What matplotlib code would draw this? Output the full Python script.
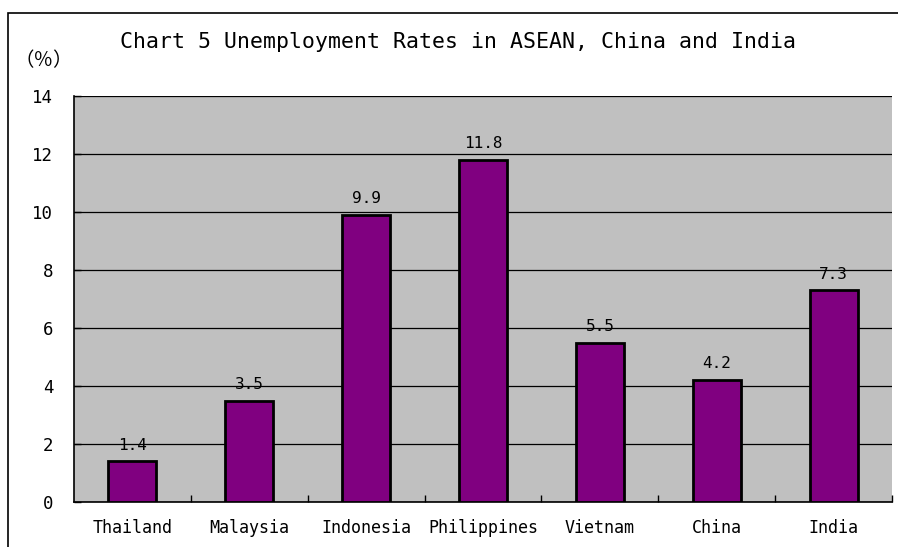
import matplotlib
matplotlib.use("Agg")
import matplotlib.pyplot as plt
from matplotlib.patches import Rectangle
from matplotlib.ticker import FixedLocator

countries = ["Thailand", "Malaysia", "Indonesia", "Philippines", "Vietnam", "China", "India"]
rates = [1.4, 3.5, 9.9, 11.8, 5.5, 4.2, 7.3]
y_ticks = [0, 2, 4, 6, 8, 10, 12, 14]

title = "Chart 5 Unemployment Rates in ASEAN, China and India"
unit_label = "（％）"

mono = ["DejaVu Sans Mono", "Noto Sans CJK JP"]

W, H = 898, 547
fig = plt.figure(figsize=(W / 100, H / 100), dpi=100)
fig.patch.set_facecolor("white")

# outer chart frame (only top/left edges are inside the image)
fig.patches.append(Rectangle((8 / W, -0.2), 1.2, (H - 13) / H + 0.2, transform=fig.transFigure,
                             fill=False, edgecolor="black", linewidth=1.2, clip_on=False))

ax = fig.add_axes([74 / W, 45 / H, (892 - 74) / W, (502 - 96) / H])
ax.set_facecolor("#C0C0C0")

x = list(range(len(countries)))
ax.bar(x, rates, width=0.41, color="#800080", edgecolor="black", linewidth=2, zorder=3)

for xi, v in zip(x, rates):
    ax.text(xi, v + 0.3, f"{v:.1f}", ha="center", va="bottom", fontsize=11.5, family=mono, zorder=4)

ax.set_xlim(-0.5, len(countries) - 0.5)
ax.set_ylim(0, 14)
ax.set_yticks(y_ticks)
ax.set_yticklabels([str(t) for t in y_ticks], family=mono, fontsize=12.5)
ax.yaxis.grid(True, color="black", linewidth=0.9, zorder=1)
ax.set_axisbelow(True)

ax.set_xticks(x)
ax.set_xticklabels(countries, family=mono, fontsize=12)
ax.xaxis.set_minor_locator(FixedLocator([i + 0.5 for i in range(len(countries))]))
ax.tick_params(axis="x", which="major", length=0, pad=12)
ax.tick_params(axis="x", which="minor", direction="in", length=5, width=1)
ax.tick_params(axis="y", direction="in", length=5, width=1, pad=15)

for s in ["top", "right"]:
    ax.spines[s].set_visible(False)
ax.spines["left"].set_linewidth(1.2)
ax.spines["bottom"].set_linewidth(1.2)

fig.text(458 / W, 1 - 42 / H, title, ha="center", va="center", fontsize=15.5, family=mono)
fig.text(44 / W, 1 - 61 / H, unit_label, ha="center", va="center", fontsize=14,
         family=["Noto Sans CJK JP", "DejaVu Sans"])

fig.savefig("out.png", dpi=100)
